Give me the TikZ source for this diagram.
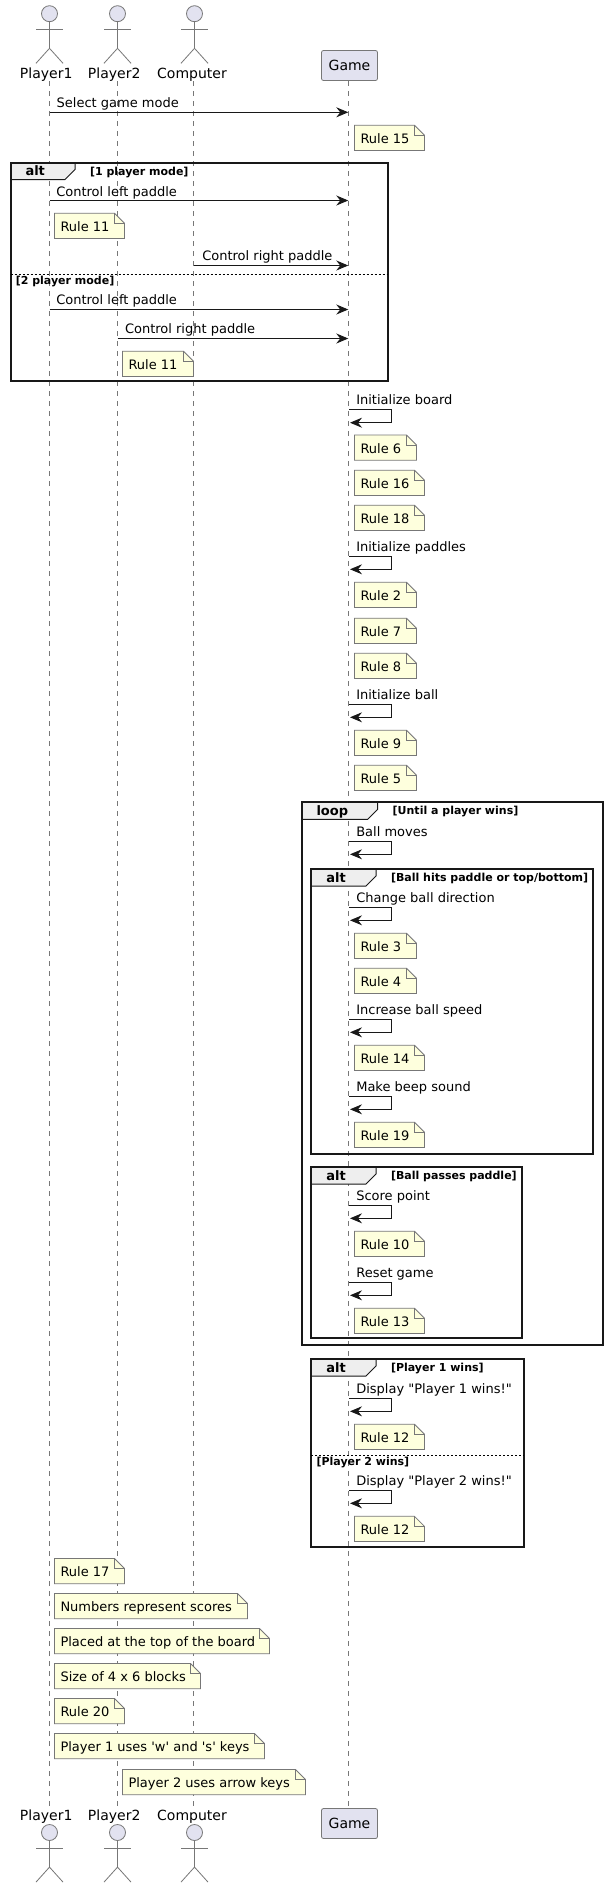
\documentclass[tikz,border=0pt]{standalone}
\usepackage{fontspec}
\newfontfamily\djv{DejaVu Sans}
\usetikzlibrary{arrows.meta}
\definecolor{ink}{HTML}{181818}
\definecolor{thin}{HTML}{777777}
\definecolor{partfill}{HTML}{E2E2F0}
\definecolor{notefill}{HTML}{FEFFDD}
\definecolor{tabfill}{HTML}{EEEEEE}
\tikzset{
  txt/.style={anchor=base west,inner sep=0pt,outer sep=0pt,text=black,font=\djv\fontsize{13}{15}\selectfont},
  actorlabel/.style={anchor=base,inner sep=0pt,outer sep=0pt,text=black,font=\djv\fontsize{14}{16}\selectfont},
  gtitle/.style={anchor=base west,inner sep=0pt,outer sep=0pt,text=black,font=\djv\bfseries\fontsize{13}{15}\selectfont},
  gcond/.style={anchor=base west,inner sep=0pt,outer sep=0pt,text=black,font=\djv\bfseries\fontsize{11}{13}\selectfont},
  life/.style={draw=thin,line width=0.6pt,dash pattern=on 5pt off 5pt},
  stick/.style={draw=thin,line width=0.8pt},
  head/.style={circle,draw=thin,fill=partfill,line width=0.8pt,minimum size=16pt,inner sep=0pt},
  partbox/.style={draw=thin,fill=partfill,line width=0.8pt,rounded corners=2pt,minimum width=56pt,minimum height=30pt,inner sep=0pt,text=black,font=\djv\fontsize{14}{16}\selectfont},
  notebody/.style={draw=thin,fill=notefill,line width=0.8pt},
  notefold/.style={draw=thin,line width=0.8pt},
  arrowline/.style={draw=ink,line width=1pt,-{Stealth[length=12pt,width=10pt,inset=4pt]}},
  gframe/.style={draw=ink,line width=2pt},
  gtab/.style={draw=ink,fill=tabfill,line width=1pt},
  gsep/.style={draw=black,line width=1pt,dash pattern=on 2pt off 2pt},
}
% actor name, x, vertical offset
\newcommand{\stickman}[3]{
  \node[head] (#1head) at (#2,13.7+#3) {};
  \coordinate (#1hip) at (#2,48.3+#3);
  \coordinate (#1la) at (#2-13.5,29.3+#3);
  \coordinate (#1ra) at (#2+13.5,29.3+#3);
  \coordinate (#1lf) at (#2-13.5,63.3+#3);
  \coordinate (#1rf) at (#2+13.5,63.3+#3);
  \draw[stick] (#1head.south) -- (#1hip);
  \draw[stick] (#1la) -- (#1ra);
  \draw[stick] (#1lf) -- (#1hip) -- (#1rf);
}
% name, left, right, top, text
\newcommand{\rulenote}[5]{
  \coordinate (#1a) at (#2,#4);
  \coordinate (#1b) at (#3-10,#4);
  \coordinate (#1c) at (#3,#4+10);
  \coordinate (#1d) at (#3,#4+25.2);
  \coordinate (#1e) at (#2,#4+25.2);
  \coordinate (#1f) at (#3-10,#4+10);
  \draw[notebody] (#1a) -- (#1b) -- (#1c) -- (#1d) -- (#1e) -- cycle;
  \draw[notefold] (#1b) -- (#1f) -- (#1c);
  \node[txt] (#1t) at (#2+6,#4+18) {#5};
}
% name, x1, x2, y, text x, text baseline y, text
\newcommand{\msg}[7]{
  \coordinate (#1s) at (#2,#4);
  \coordinate (#1e) at (#3,#4);
  \draw[arrowline] (#1s) -- (#1e);
  \node[txt] (#1t) at (#5,#6) {#7};
}
% name, y, text
\newcommand{\selfmsg}[3]{
  \coordinate (#1s) at (349,#2);
  \coordinate (#1c) at (391.3,#2);
  \coordinate (#1d) at (391.3,#2+13);
  \coordinate (#1e) at (350,#2+13);
  \draw[arrowline] (#1s) -- (#1c) -- (#1d) -- (#1e);
  \node[txt] (#1t) at (356.3,#2-5.2) {#3};
}
% name, left, right, top, bottom, tab right, title, condition
\newcommand{\group}[8]{
  \coordinate (#1nw) at (#2,#4);
  \coordinate (#1se) at (#3,#5);
  \coordinate (#1ta) at (#6,#4);
  \coordinate (#1tb) at (#6,#4+7);
  \coordinate (#1tc) at (#6-10,#4+17);
  \coordinate (#1td) at (#2,#4+17);
  \draw[gtab] (#1nw) -- (#1ta) -- (#1tb) -- (#1tc) -- (#1td) -- cycle;
  \draw[gframe] (#1nw) rectangle (#1se);
  \node[gtitle] (#1title) at (#2+15,#4+13.2) {#7};
  \node[gcond] (#1cond) at (#6+15,#4+12.5) {#8};
}
% name, left, right, y, condition
\newcommand{\elsepart}[5]{
  \coordinate (#1l) at (#2,#4);
  \coordinate (#1r) at (#3,#4);
  \draw[gsep] (#1l) -- (#1r);
  \node[gcond] (#1cond) at (#2+5.3,#4+9.5) {#5};
}
\begin{document}
\begin{tikzpicture}[x=1pt,y=-1pt]
\useasboundingbox[fill=white] (0,0) rectangle (607,1888);

% lifelines
\coordinate (l1t) at (49.5,81); \coordinate (l1b) at (49.5,1806.5);
\coordinate (l2t) at (117.5,81); \coordinate (l2b) at (117.5,1806.5);
\coordinate (l3t) at (193.3,81); \coordinate (l3b) at (193.3,1806.5);
\coordinate (l4t) at (348.5,81); \coordinate (l4b) at (348.5,1806.5);
\draw[life] (l1t) -- (l1b);
\draw[life] (l2t) -- (l2b);
\draw[life] (l3t) -- (l3b);
\draw[life] (l4t) -- (l4b);

% participants, top and bottom
\stickman{ap}{49.5}{0}
\stickman{aq}{117.5}{0}
\stickman{ac}{194.5}{0}
\node[actorlabel] (apl) at (46.2,78.3) {Player1};
\node[actorlabel] (aql) at (114.2,78.3) {Player2};
\node[actorlabel] (acl) at (192,78.3) {Computer};
\node[partbox] (gametop) at (349.5,65.5) {Game};
\stickman{bp}{49.5}{1818.8}
\stickman{bq}{117.5}{1818.8}
\stickman{bc}{194.5}{1818.8}
\node[actorlabel] (bpl) at (46.2,1820.7) {Player1};
\node[actorlabel] (bql) at (114.2,1820.7) {Player2};
\node[actorlabel] (bcl) at (192,1820.7) {Computer};
\node[partbox] (gamebot) at (349.5,1823.5) {Game};

% groups
\group{ga}{10.5}{387.5}{162.5}{381}{75}{alt}{[1 player mode]}
\elsepart{gae}{10.5}{387.5}{274.5}{[2 player mode]}
\group{gl}{301.5}{602.5}{802.3}{1345}{377.7}{loop}{[Until a player wins]}
\group{gb}{311.3}{593}{869}{1153.7}{376}{alt}{[Ball hits paddle or top/bottom]}
\group{gc}{311.3}{521.7}{1167}{1338.3}{376}{alt}{[Ball passes paddle]}
\group{gd}{311.3}{523.7}{1359}{1546.7}{376}{alt}{[Player 1 wins]}
\elsepart{gde}{311.3}{523.7}{1455.5}{[Player 2 wins]}

% messages and notes
\msg{m1}{49.5}{348.3}{112.3}{56.7}{107.3}{Select game mode}
\rulenote{n15}{354.5}{424.5}{125.3}{Rule 15}
\msg{m2}{49.5}{348.3}{200.5}{56.3}{196.5}{Control left paddle}
\rulenote{n11a}{54.5}{124.5}{213.3}{Rule 11}
\msg{m3}{193.5}{348.3}{265.5}{202.3}{260.5}{Control right paddle}
\msg{m4}{49.5}{348.3}{309.5}{56.3}{304.5}{Control left paddle}
\msg{m5}{117.5}{348.3}{338.5}{125}{333.5}{Control right paddle}
\rulenote{n11b}{122.5}{193.5}{351.2}{Rule 11}

\selfmsg{s1}{409.7}{Initialize board}
\rulenote{n6}{354.5}{416.5}{435}{Rule 6}
\rulenote{n16}{354.5}{424.5}{470.3}{Rule 16}
\rulenote{n18}{354.5}{424.5}{505.2}{Rule 18}
\selfmsg{s2}{556.3}{Initialize paddles}
\rulenote{n2}{354.5}{416.5}{582.3}{Rule 2}
\rulenote{n7}{354.5}{416.5}{618.2}{Rule 7}
\rulenote{n8}{354.5}{416.5}{653.3}{Rule 8}
\selfmsg{s3}{704.3}{Initialize ball}
\rulenote{n9}{354.5}{416.5}{730.3}{Rule 9}
\rulenote{n5}{354.5}{416.5}{765.3}{Rule 5}
\selfmsg{s4}{841.3}{Ball moves}
\selfmsg{s5}{907.3}{Change ball direction}
\rulenote{n3}{354.5}{416.5}{933.3}{Rule 3}
\rulenote{n4}{354.5}{416.5}{968.3}{Rule 4}
\selfmsg{s6}{1019.3}{Increase ball speed}
\rulenote{n14}{354.5}{424.5}{1045.3}{Rule 14}
\selfmsg{s7}{1096.3}{Make beep sound}
\rulenote{n19}{354.5}{424.5}{1122.3}{Rule 19}
\selfmsg{s8}{1205.3}{Score point}
\rulenote{n10}{354.5}{424.5}{1231.3}{Rule 10}
\selfmsg{s9}{1282.3}{Reset game}
\rulenote{n13}{354.5}{424.5}{1308.3}{Rule 13}
\selfmsg{s10}{1398.3}{Display "Player 1 wins!"}
\rulenote{n12a}{354.5}{424.5}{1424.3}{Rule 12}
\selfmsg{s11}{1490.3}{Display "Player 2 wins!"}
\rulenote{n12b}{354.5}{424.5}{1516.3}{Rule 12}

\rulenote{n17}{54.5}{124.5}{1558.5}{Rule 17}
\rulenote{nnum}{54.5}{247.5}{1593.5}{Numbers represent scores}
\rulenote{nplc}{54.5}{269.5}{1628.5}{Placed at the top of the board}
\rulenote{nsiz}{54.5}{200.5}{1663.5}{Size of 4 x 6 blocks}
\rulenote{n20}{54.5}{124.5}{1698.5}{Rule 20}
\rulenote{nk1}{54.5}{264.5}{1733.5}{Player 1 uses 'w' and 's' keys}
\rulenote{nk2}{122.5}{305.5}{1769.5}{Player 2 uses arrow keys}
\end{tikzpicture}
\end{document}
